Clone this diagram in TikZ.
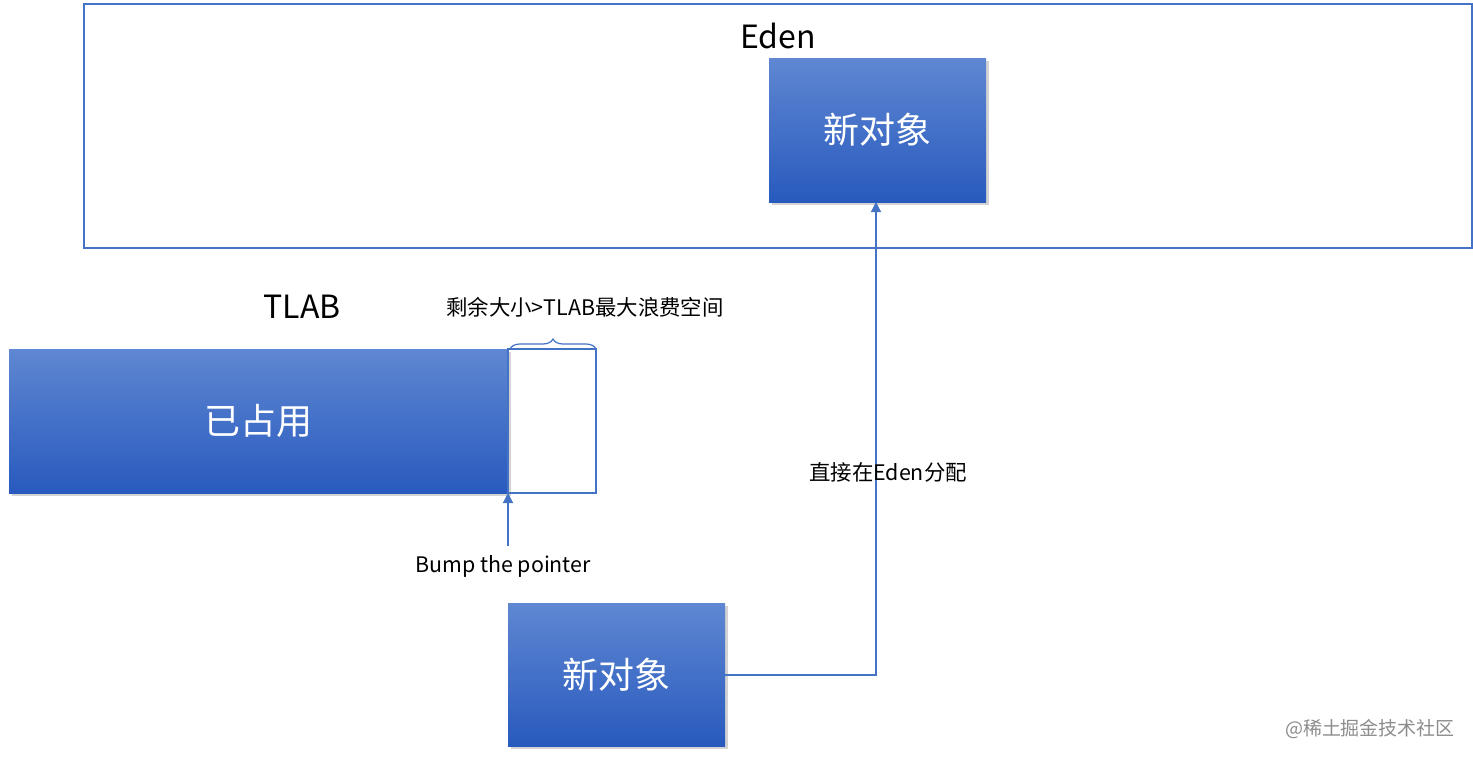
\documentclass[tikz,border=0pt]{standalone}
\usepackage{fontspec}
\setmainfont{Noto Sans CJK SC}
\usetikzlibrary{decorations.pathreplacing,shadows,arrows.meta}
\definecolor{bt}{RGB}{95,135,210}\definecolor{bb}{RGB}{40,90,190}
\definecolor{ln}{RGB}{68,114,196}
\begin{document}
\begin{tikzpicture}[x=0.5pt,y=-0.5pt,
  box/.style={top color=bt,bottom color=bb,draw=none,drop shadow={shadow xshift=1.5pt,shadow yshift=-1.5pt,opacity=0.35}},
  frame/.style={draw=ln,line width=0.8pt},
  conn/.style={draw=ln,line width=0.6pt,-{Triangle[length=5pt,width=5pt]}},
  big/.style={font=\fontsize{18pt}{20pt}\selectfont,text=white},
  lbl/.style={font=\fontsize{10.7pt}{12pt}\selectfont}]
\useasboundingbox (0,0) rectangle (1473,760);
\draw[frame] (84,4) rectangle (1472,248);
\node[font=\fontsize{16pt}{18pt}\selectfont] (eden) at (778,36) {Eden};
\path[box] (769,58) rectangle (986,202);
\node[big] (n1) at (877.5,130) {新对象};
\coordinate (n1b) at (876,202);
\node[font=\fontsize{16pt}{18pt}\selectfont] (tlab) at (302,307) {TLAB};
\path[box] (9,349) rectangle (508,493);
\node[big] (used) at (258.5,421) {已占用};
\draw[frame] (508,349) rectangle (596,493);
\draw[draw=ln,line width=0.6pt,decoration={brace,amplitude=5pt},decorate] (510,349) -- (596,349);
\node[lbl] (rem) at (585,307) {剩余大小>TLAB最大浪费空间};
\coordinate (ptr) at (508,493);
\node[lbl] (bump) at (503,566) {Bump the pointer};
\draw[conn] (508,546) -- (ptr);
\path[box] (508,603) rectangle (725,746);
\node[big] (n2) at (616.5,675) {新对象};
\coordinate (n2r) at (725,675);
\draw[conn] (n2r) -- (876,675) -- (n1b);
\node[lbl] (direct) at (888,472) {直接在Eden分配};
\node[font=\fontsize{9.5pt}{11pt}\selectfont,text=black!45] (wm) at (1370,729) {@稀土掘金技术社区};
\end{tikzpicture}
\end{document}
